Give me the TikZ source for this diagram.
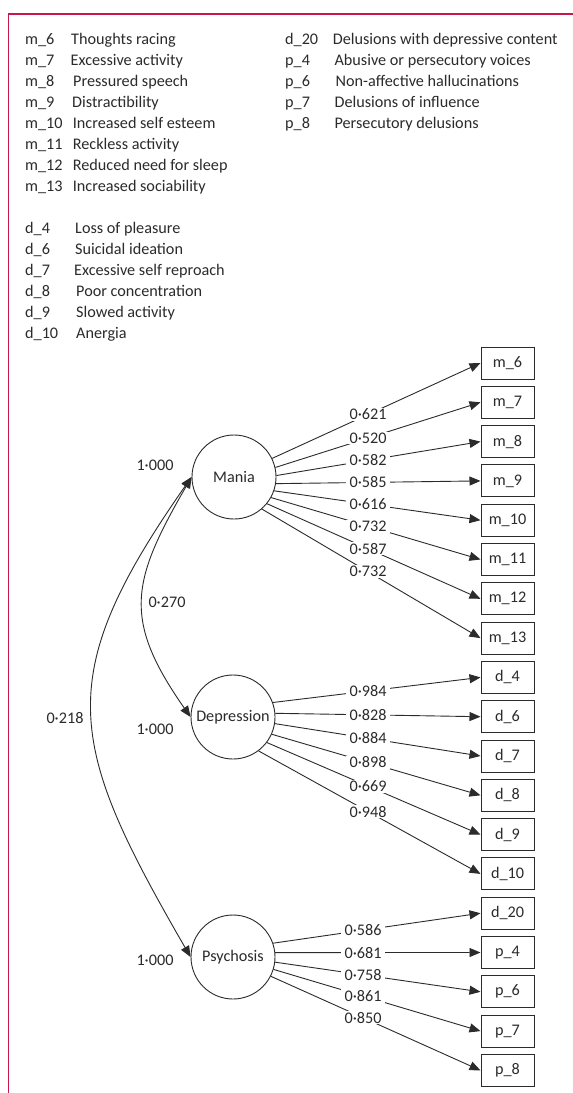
\documentclass[tikz,border=0pt]{standalone}
\usepackage{fontspec}
\setmainfont{Carlito}
\usetikzlibrary{arrows.meta,calc}
\definecolor{framecol}{HTML}{C8174A}
\definecolor{ink}{HTML}{2B2B2B}
\begin{document}
\begin{tikzpicture}[x=1pt,y=1pt,
  every node/.style={font=\fontsize{16.2}{19}\selectfont, text=ink},
  latent/.style={circle, draw=ink, line width=0.9pt, minimum size=84pt, inner sep=0pt},
  item/.style={rectangle, draw=ink, line width=1pt, minimum width=53pt, minimum height=32pt, inner sep=0pt},
  load/.style={draw=ink, line width=0.9pt, -{Triangle[length=11pt,width=9pt]}},
  cov/.style={draw=ink, line width=0.9pt, {Triangle[length=11pt,width=9pt]}-{Triangle[length=11pt,width=9pt]}},
  lbl/.style={fill=white, inner xsep=4pt, inner ysep=1pt},
  code/.style={anchor=base west, inner sep=0pt},
]
\useasboundingbox (0,0) rectangle (573,-1093);
\fill[white] (0,0) rectangle (573,-1093);
\draw[framecol, line width=1.4pt] (8.5,-1093) -- (8.5,-14) -- (573,-14);

% legend, left column
\foreach \c/\d/\y/\dx [count=\i] in {
  m\_6/Thoughts racing/44.5/71,
  m\_7/Excessive activity/65.5/70.5,
  m\_8/Pressured speech/86.5/73,
  m\_9/Distractibility/107.5/72,
  m\_10/Increased self esteem/128.5/72.7,
  m\_11/Reckless activity/149.5/72.7,
  m\_12/Reduced need for sleep/170.5/72.7,
  m\_13/Increased sociability/191.5/72.7,
  d\_4/Loss of pleasure/233.5/75,
  d\_6/Suicidal ideation/254.5/75,
  d\_7/Excessive self reproach/275.5/74,
  d\_8/Poor concentration/296.5/76,
  d\_9/Slowed activity/317.5/76,
  d\_10/Anergia/338.5/76}
{
  \node[code] (lc\i) at (25,-\y) {\c};
  \node[code] (ld\i) at (\dx,-\y) {\d};
}
% legend, right column
\foreach \c/\d/\y/\dx [count=\i] in {
  d\_20/Delusions with depressive content/44.5/332.6,
  p\_4/Abusive or persecutory voices/65.5/334.4,
  p\_6/Non-affective hallucinations/86.5/335.5,
  p\_7/Delusions of influence/107.5/334.4,
  p\_8/Persecutory delusions/128.5/334.4}
{
  \node[code] (rc\i) at (285,-\y) {\c};
  \node[code] (rd\i) at (\dx,-\y) {\d};
}

% observed items
\foreach \n/\t [count=\i from 0] in {m6/m\_6, m7/m\_7, m8/m\_8, m9/m\_9, m10/m\_10, m11/m\_11, m12/m\_12, m13/m\_13,
  d4/d\_4, d6/d\_6, d7/d\_7, d8/d\_8, d9/d\_9, d10/d\_10, d20/d\_20, p4/p\_4, p6/p\_6, p7/p\_7, p8/p\_8}
{
  \node[item] (\n) at (507.5,{-363-39.3*\i}) {\t};
}

% latent factors
\node[latent] (Mania) at (234,-477) {Mania};
\node[latent] (Depression) at (233,-717) {Depression};
\node[latent] (Psychosis) at (233,-957) {Psychosis};

% variances
\node (vM) at (155,-465) {1·000};
\node (vD) at (155,-729) {1·000};
\node (vP) at (155,-960) {1·000};

% covariances
\draw[cov] (Mania.west) .. controls +(240:120pt) and +(125:120pt) .. (Depression.west);
\draw[cov] (Mania.west) .. controls +(235:246pt) and +(120:246pt) .. (Psychosis.west);
\node[lbl] (cMD) at (167,-602) {0·270};
\node[lbl] (cMP) at (65,-718) {0·218};

% loadings
\foreach \s/\a/\t/\v/\cx in {
  Mania/26/m6/0·621/368, Mania/13/m7/0·520/368, Mania/2/m8/0·582/368, Mania/351/m9/0·585/368,
  Mania/341/m10/0·616/368, Mania/331/m11/0·732/368, Mania/321/m12/0·587/368, Mania/311/m13/0·732/368,
  Depression/20/d4/0·984/368, Depression/5/d6/0·828/368, Depression/351/d7/0·884/368,
  Depression/336/d8/0·898/368, Depression/323/d9/0·669/368, Depression/307/d10/0·948/368,
  Psychosis/19/d20/0·586/363, Psychosis/6/p4/0·681/363, Psychosis/353/p6/0·758/363,
  Psychosis/343/p7/0·861/363, Psychosis/333/p8/0·850/363}
{
  \draw[load] (\s.\a) -- (\t.west);
  \path let \p1=(\s.\a), \p2=(\t.west) in
    node[lbl] (v\t) at ({\cx}, {\y1+(\y2-\y1)/(\x2-\x1)*(\cx pt-\x1)}) {\v};
}
\end{tikzpicture}
\end{document}
